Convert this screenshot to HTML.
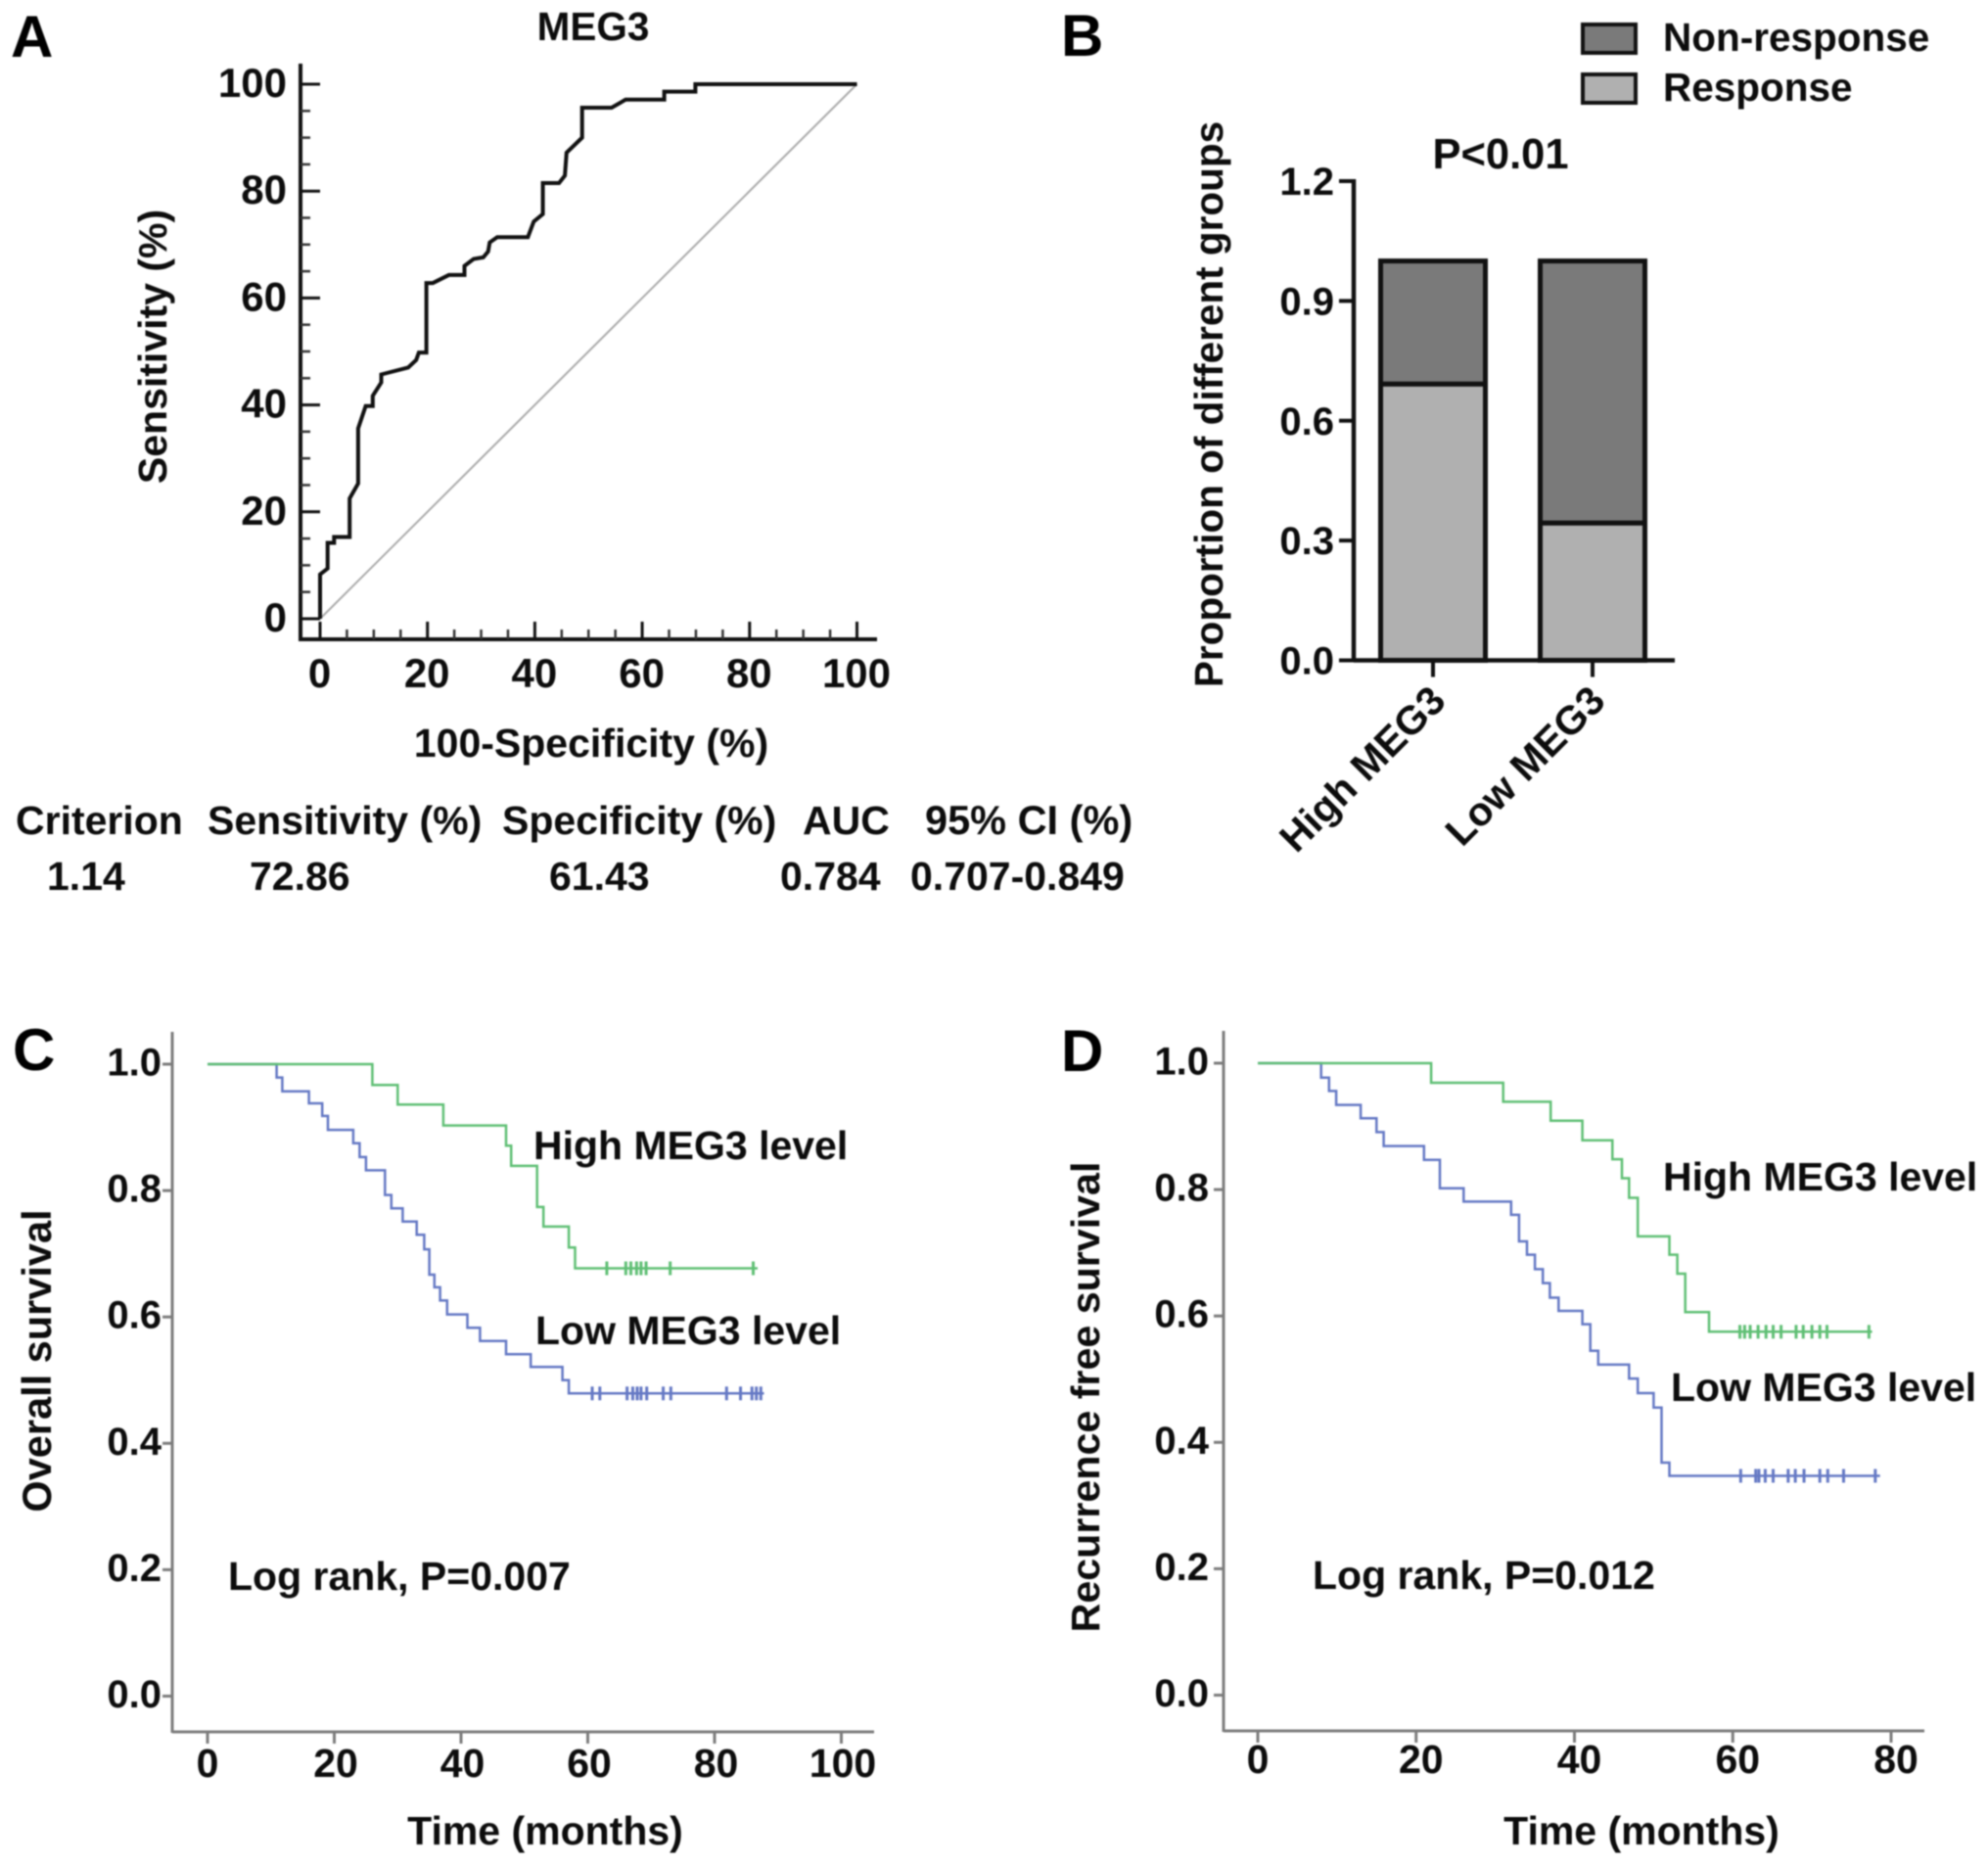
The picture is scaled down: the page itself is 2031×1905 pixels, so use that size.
<!DOCTYPE html>
<html lang="en">
<head>
<meta charset="utf-8">
<title>MEG3 figure</title>
<style>
html,body{margin:0;padding:0;background:#fff;}
body{width:2031px;height:1905px;overflow:hidden;}
svg{display:block;filter:blur(0.8px);}
text{font-family:"Liberation Sans",Arial,sans-serif;font-weight:bold;fill:#0c0c0c;font-size:41px;}
.letter{font-size:60px;fill:#000;}
</style>
</head>
<body>
<svg id="fig" xmlns="http://www.w3.org/2000/svg" width="2031" height="1905" viewBox="0 0 2031 1905">
  <rect x="0" y="0" width="2031" height="1905" fill="#fff"/>

  <!-- Panel A static text -->
  <text class="letter" x="11" y="58">A</text>
  <text x="606" y="41" text-anchor="middle" style="font-size:40.5px">MEG3</text>
  <text x="604" y="773" text-anchor="middle">100-Specificity (%)</text>
  <text transform="translate(170,354) rotate(-90)" text-anchor="middle">Sensitivity (%)</text>
  <g>
    <text x="16" y="852">Criterion</text>
    <text x="212" y="852">Sensitivity (%)</text>
    <text x="513" y="852">Specificity (%)</text>
    <text x="820" y="852">AUC</text>
    <text x="945" y="852" style="font-size:41.5px">95% CI (%)</text>
    <text x="48" y="909">1.14</text>
    <text x="255" y="909">72.86</text>
    <text x="561" y="909">61.43</text>
    <text x="797" y="909">0.784</text>
    <text x="930" y="909">0.707-0.849</text>
  </g>

  <!-- Panel B static text -->
  <text class="letter" x="1084" y="57">B</text>
  <g>
    <rect x="1617" y="25" width="54" height="29" fill="#7a7a7a" stroke="#111" stroke-width="4"/>
    <text x="1699" y="52" style="font-size:40.5px">Non-response</text>
    <rect x="1617" y="76" width="54" height="29" fill="#b0b0b0" stroke="#111" stroke-width="4"/>
    <text x="1699" y="103" style="font-size:40.5px">Response</text>
  </g>
  <text x="1533" y="172" text-anchor="middle" style="font-size:43.5px">P&lt;0.01</text>
  <text transform="translate(1249,413) rotate(-90)" text-anchor="middle" style="font-size:40.5px">Proportion of different groups</text>

  <!-- Panel C static text -->
  <text class="letter" x="13" y="1093">C</text>
  <text transform="translate(52,1390) rotate(-90)" text-anchor="middle" style="font-size:41.5px">Overall survival</text>
  <text x="557" y="1884" text-anchor="middle">Time (months)</text>
  <text x="545" y="1184">High MEG3 level</text>
  <text x="547" y="1373">Low MEG3 level</text>
  <text x="233" y="1624">Log rank, P=0.007</text>

  <!-- Panel D static text -->
  <text class="letter" x="1084" y="1094">D</text>
  <text transform="translate(1123,1427) rotate(-90)" text-anchor="middle" style="font-size:41.2px">Recurrence free survival</text>
  <text x="1677" y="1884" text-anchor="middle">Time (months)</text>
  <text x="1699" y="1216">High MEG3 level</text>
  <text x="1707" y="1431">Low MEG3 level</text>
  <text x="1341" y="1623">Log rank, P=0.012</text>
</svg>

<script>
/* ---------- Panel A data ---------- */
const rocTickValues = [0, 20, 40, 60, 80, 100];
const rocMinorTickValues = [5, 10, 15, 25, 30, 35, 45, 50, 55, 65, 70, 75, 85, 90, 95];
const rocFpr = [0,0,1.4,1.4,2.6,2.6,5.5,5.5,7.1,7.1,8.5,9.8,9.8,11.4,11.4,16.4,17.9,18.4,19.8,19.8,21,24,26.9,26.9,28.6,30.4,31.3,31.6,33,38.7,39.8,41.5,41.5,44.5,45.6,45.9,48.8,48.8,54.3,56.9,64.1,64.1,69.9,69.9,100];
const rocTpr = [0,8.3,9.4,14.2,14.2,15.3,15.3,22.5,25.3,35.6,39.8,39.8,41.7,44.2,45.7,47,48.4,49.8,49.8,62.8,62.8,64.3,64.3,66,67.3,67.6,68.7,70.4,71.4,71.4,74.3,75.7,81.5,81.5,82.9,87.2,90,95.6,95.6,97.1,97.1,98.6,98.6,100,100];
const rocDiagonal = [0, 100];

/* ---------- Panel B data ---------- */
const barCategories = ["High MEG3", "Low MEG3"];
const barResponse = [0.692, 0.344];
const barNonResponse = [0.308, 0.656];
const barTickLabels = ["0.0", "0.3", "0.6", "0.9", "1.2"];
const barTickValues = [0, 0.3, 0.6, 0.9, 1.2];

/* ---------- Panel C data ---------- */
const osXTicks = [0, 20, 40, 60, 80, 100];
const kmYTickLabels = ["0.0", "0.2", "0.4", "0.6", "0.8", "1.0"];
const kmYTicks = [0, 0.2, 0.4, 0.6, 0.8, 1.0];
const osHighTime = [26,30,37.2,47.1,47.9,52,53,57,58];
const osHighSurv = [0.967,0.936,0.903,0.871,0.839,0.774,0.743,0.71,0.677];
const osHighEnd = 86.8;
const osHighCensor = [63,66,66.8,67.7,68.4,69.2,73,86.1];
const osLowTime = [10.9,11.8,16,18.1,19,23,24,25,28,29,30.8,33,34.2,35,35.8,36.7,37.8,41,43,47.1,51,56,57];
const osLowSurv = [0.979,0.957,0.938,0.918,0.896,0.875,0.853,0.832,0.793,0.772,0.751,0.73,0.707,0.667,0.647,0.626,0.604,0.583,0.562,0.541,0.521,0.5,0.479];
const osLowEnd = 87.8;
const osLowCensor = [60.7,61.9,66.2,67.1,67.8,68.4,69.3,71.9,73.1,81.9,84.1,85.9,86.6,87.3];

/* ---------- Panel D data ---------- */
const rfsXTicks = [0, 20, 40, 60, 80];
const rfsHighTime = [21.9,31,37,41,44.8,46,46.9,48,52,53,54,57];
const rfsHighSurv = [0.969,0.939,0.909,0.878,0.848,0.818,0.787,0.726,0.697,0.667,0.606,0.575];
const rfsHighEnd = 77.6;
const rfsHighCensor = [60.9,61.5,62.2,63.2,64.2,65.1,66.1,68,68.9,70,71,71.9,77.2];
const rfsLowTime = [8,9,9.9,13,15,15.9,21,23,26,32,33,34,35,36,36.9,38,41,42,43,46.9,48,50,51,52];
const rfsLowSurv = [0.977,0.956,0.934,0.913,0.891,0.869,0.847,0.802,0.781,0.76,0.718,0.697,0.674,0.652,0.629,0.608,0.587,0.545,0.523,0.501,0.478,0.455,0.368,0.347];
const rfsLowEnd = 78.6;
const rfsLowCensor = [61,62.9,63.3,64.1,65.1,67,67.9,69,71,72,74,78];

/* ---------- helpers ---------- */
const svg = document.getElementById('fig');
const NS = 'http://www.w3.org/2000/svg';
function shape(tag, attrs, parent) {
  const el = document.createElementNS(NS, tag);
  for (const k in attrs) el.setAttribute(k, attrs[k]);
  (parent || svg).appendChild(el);
  return el;
}
function scale(d0, d1, r0, r1) {
  return function (v) { return r0 + (v - d0) * (r1 - r0) / (d1 - d0); };
}

/* ---------- Panel A: ROC ---------- */
(function () {
  const x = scale(0, 100, 327, 875.5);
  const y = scale(0, 100, 632, 86);
  const spineX = 307, spineY = 653;
  const g = shape('g', {});
  
  

  const yAxis = shape('line', {x1: spineX, x2: spineX, y1: 65, y2: spineY + 2, stroke: '#111', 'stroke-width': 4}, g);
  
  
  const xAxis = shape('line', {x1: spineX - 2, x2: 896, y1: spineY, y2: spineY, stroke: '#111', 'stroke-width': 4}, g);
  
  

  rocMinorTickValues.forEach(function (v) {
    const ty = shape('line', {x1: spineX, x2: spineX + 10, y1: y(v), y2: y(v), stroke: '#333', 'stroke-width': 2.5}, g);
    
    
    const tx = shape('line', {x1: x(v), x2: x(v), y1: spineY, y2: spineY - 10, stroke: '#333', 'stroke-width': 2.5}, g);
    
    
  });
  rocTickValues.forEach(function (v) {
    const ty = shape('line', {x1: spineX, x2: spineX + 20, y1: y(v), y2: y(v), stroke: '#111', 'stroke-width': 3}, g);
    
    
    const tx = shape('line', {x1: x(v), x2: x(v), y1: spineY, y2: spineY - 18, stroke: '#111', 'stroke-width': 3}, g);
    
    
    const ly = shape('text', {x: 293, y: y(v) + 13, 'text-anchor': 'end', style: 'font-size:42px'}, g);
    ly.textContent = String(v);
    
    
    const lx = shape('text', {x: x(v) - 0.5, y: 702, 'text-anchor': 'middle', style: 'font-size:42px'}, g);
    lx.textContent = String(v);
    
    
  });

  const diag = shape('line', {x1: x(rocDiagonal[0]), y1: y(rocDiagonal[0]), x2: x(rocDiagonal[1]), y2: y(rocDiagonal[1]), stroke: '#aaa', 'stroke-width': 2}, g);
  
  

  const pts = rocFpr.map(function (f, i) { return x(f).toFixed(1) + ',' + y(rocTpr[i]).toFixed(1); }).join(' ');
  const curve = shape('polyline', {points: pts, fill: 'none', stroke: '#111', 'stroke-width': 4, 'stroke-linejoin': 'miter'}, g);
  
  
})();

/* ---------- Panel B: stacked bars ---------- */
(function () {
  const y = scale(0, 1.2, 674.5, 185);
  const spineX = 1383, barW = 107;
  const cx = scale(0, 1, 1464, 1627);
  const g = shape('g', {});
  
  

  barCategories.forEach(function (c, i) {
    const c0 = cx(i);
    const r = shape('rect', {x: c0 - barW / 2, width: barW, y: y(barResponse[i]), height: y(0) - y(barResponse[i]), fill: '#b0b0b0', stroke: '#111', 'stroke-width': 5}, g);
    
    
    const top = barResponse[i] + barNonResponse[i];
    const n = shape('rect', {x: c0 - barW / 2, width: barW, y: y(top), height: y(barResponse[i]) - y(top), fill: '#7a7a7a', stroke: '#111', 'stroke-width': 5}, g);
    
    
    const t = shape('line', {x1: c0, x2: c0, y1: y(0), y2: y(0) + 17, stroke: '#111', 'stroke-width': 4}, g);
    
    
    const l = shape('text', {transform: 'translate(' + (c0 + 15) + ',718) rotate(-45)', 'text-anchor': 'end', style: 'font-size:41px'}, g);
    l.textContent = c;
    
    
  });

  const yAxis = shape('line', {x1: spineX, x2: spineX, y1: y(1.2) - 2, y2: y(0) + 2, stroke: '#111', 'stroke-width': 4.5}, g);
  
  
  const xAxis = shape('line', {x1: spineX, x2: 1711, y1: y(0), y2: y(0), stroke: '#111', 'stroke-width': 4.5}, g);
  
  

  barTickValues.forEach(function (v, i) {
    const t = shape('line', {x1: spineX - 15, x2: spineX, y1: y(v), y2: y(v), stroke: '#111', 'stroke-width': 4}, g);
    
    
    const l = shape('text', {x: 1363, y: y(v) + 14, 'text-anchor': 'end', style: 'font-size:40px'}, g);
    l.textContent = barTickLabels[i];
    
    
  });
})();

/* ---------- Panels C & D: Kaplan-Meier ---------- */
function stepPath(x, y, times, surv, end) {
  let d = 'M' + x(0).toFixed(1) + ' ' + y(1).toFixed(1);
  times.forEach(function (t, i) {
    d += 'H' + x(t).toFixed(1) + 'V' + y(surv[i]).toFixed(1);
  });
  return d + 'H' + x(end).toFixed(1);
}

(function () {
  const x = scale(0, 100, 212, 859.5);
  const y = scale(0, 1, 1732.5, 1087);
  const spineX = 176, spineY = 1769;
  const gray = '#7c7c7c', green = '#5fbf74', blue = '#6478c4';
  const g = shape('g', {});
  
  

  const yAxis = shape('line', {x1: spineX, x2: spineX, y1: 1054, y2: spineY + 1, stroke: gray, 'stroke-width': 3}, g);
  
  
  const xAxis = shape('line', {x1: spineX, x2: 893, y1: spineY, y2: spineY, stroke: gray, 'stroke-width': 3}, g);
  
  

  kmYTicks.forEach(function (v, i) {
    const t = shape('line', {x1: spineX - 10, x2: spineX, y1: y(v), y2: y(v), stroke: gray, 'stroke-width': 3}, g);
    
    
    const l = shape('text', {x: 165, y: y(v) + 11.5, 'text-anchor': 'end', style: 'font-size:40px'}, g);
    l.textContent = kmYTickLabels[i];
    
    
  });
  osXTicks.forEach(function (v) {
    const t = shape('line', {x1: x(v), x2: x(v), y1: spineY, y2: spineY + 12, stroke: gray, 'stroke-width': 3}, g);
    
    
    const l = shape('text', {x: x(v) + (v > 0 ? 1.5 : 0), y: 1815, 'text-anchor': 'middle'}, g);
    l.textContent = String(v);
    
    
  });

  const low = shape('path', {d: stepPath(x, y, osLowTime, osLowSurv, osLowEnd), fill: 'none', stroke: blue, 'stroke-width': 2.5}, g);
  
  
  const high = shape('path', {d: stepPath(x, y, osHighTime, osHighSurv, osHighEnd), fill: 'none', stroke: green, 'stroke-width': 2.5}, g);
  
  

  const lowLevel = osLowSurv[osLowSurv.length - 1];
  osLowCensor.forEach(function (t) {
    const c = shape('line', {x1: x(t), x2: x(t), y1: y(lowLevel) - 7, y2: y(lowLevel) + 7, stroke: blue, 'stroke-width': 3}, g);
    
    
  });
  const highLevel = osHighSurv[osHighSurv.length - 1];
  osHighCensor.forEach(function (t) {
    const c = shape('line', {x1: x(t), x2: x(t), y1: y(highLevel) - 7, y2: y(highLevel) + 7, stroke: green, 'stroke-width': 3}, g);
    
    
  });
})();

(function () {
  const x = scale(0, 80, 1285, 1932);
  const y = scale(0, 1, 1731.5, 1086);
  const spineX = 1250, spineY = 1768;
  const gray = '#7c7c7c', green = '#5fbf74', blue = '#6478c4';
  const g = shape('g', {});
  
  

  const yAxis = shape('line', {x1: spineX, x2: spineX, y1: 1053, y2: spineY + 1, stroke: gray, 'stroke-width': 3}, g);
  
  
  const xAxis = shape('line', {x1: spineX, x2: 1966, y1: spineY, y2: spineY, stroke: gray, 'stroke-width': 3}, g);
  
  

  kmYTicks.forEach(function (v, i) {
    const t = shape('line', {x1: spineX - 10, x2: spineX, y1: y(v), y2: y(v), stroke: gray, 'stroke-width': 3}, g);
    
    
    const l = shape('text', {x: 1235, y: y(v) + 11.5, 'text-anchor': 'end', style: 'font-size:40px'}, g);
    l.textContent = kmYTickLabels[i];
    
    
  });
  rfsXTicks.forEach(function (v) {
    const t = shape('line', {x1: x(v), x2: x(v), y1: spineY, y2: spineY + 12, stroke: gray, 'stroke-width': 3}, g);
    
    
    const l = shape('text', {x: x(v) + (v > 0 ? 5 : 0), y: 1811, 'text-anchor': 'middle'}, g);
    l.textContent = String(v);
    
    
  });

  const low = shape('path', {d: stepPath(x, y, rfsLowTime, rfsLowSurv, rfsLowEnd), fill: 'none', stroke: blue, 'stroke-width': 2.5}, g);
  
  
  const high = shape('path', {d: stepPath(x, y, rfsHighTime, rfsHighSurv, rfsHighEnd), fill: 'none', stroke: green, 'stroke-width': 2.5}, g);
  
  

  const lowLevel = rfsLowSurv[rfsLowSurv.length - 1];
  rfsLowCensor.forEach(function (t) {
    const c = shape('line', {x1: x(t), x2: x(t), y1: y(lowLevel) - 7, y2: y(lowLevel) + 7, stroke: blue, 'stroke-width': 3}, g);
    
    
  });
  const highLevel = rfsHighSurv[rfsHighSurv.length - 1];
  rfsHighCensor.forEach(function (t) {
    const c = shape('line', {x1: x(t), x2: x(t), y1: y(highLevel) - 7, y2: y(highLevel) + 7, stroke: green, 'stroke-width': 3}, g);
    
    
  });
})();
</script>
</body>
</html>
